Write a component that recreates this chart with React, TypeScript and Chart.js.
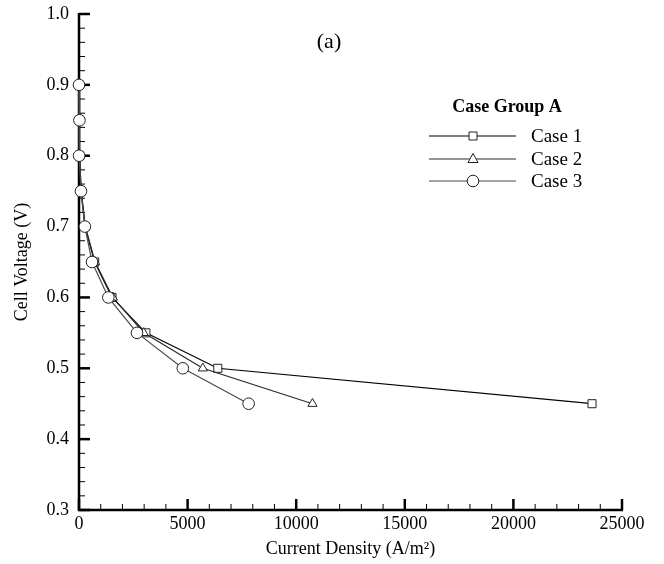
import React, { useEffect, useRef } from "react";
import { Chart, registerables } from "chart.js";

Chart.register(...registerables);

const voltages = [0.9, 0.85, 0.8, 0.75, 0.7, 0.65, 0.6, 0.55, 0.5, 0.45];
const case1Current = [5, 20, 30, 100, 280, 720, 1520, 3080, 6390, 23620];
const case2Current = [5, 20, 30, 100, 290, 740, 1560, 2980, 5700, 10750];
const case3Current = [0, 20, 5, 90, 270, 600, 1350, 2670, 4780, 7810];
const seriesNames = ["Case 1", "Case 2", "Case 3"];
const seriesColors = ["#000000", "#2a2a2a", "#4a4a4a"];
const seriesMarkers = ["rect", "triangle", "circle"];
const legendTitle = "Case Group A";
const panelLabel = "(a)";
const xTitle = "Current Density (A/m\u00B2)";
const yTitle = "Cell Voltage (V)";
const xMin = 0, xMax = 25000, xMajor = 5000, xMinor = 1000;
const yMin = 0.3, yMax = 1.0, yMajor = 0.1, yMinor = 0.02;

const FONT = "'Liberation Serif', 'Times New Roman', serif";

function drawMarker(ctx: CanvasRenderingContext2D, kind: string, x: number, y: number) {
  ctx.beginPath();
  if (kind === "rect") {
    ctx.rect(x - 4, y - 4, 8, 8);
  } else if (kind === "triangle") {
    ctx.moveTo(x, y - 5.5);
    ctx.lineTo(x + 5, y + 3.5);
    ctx.lineTo(x - 5, y + 3.5);
    ctx.closePath();
  } else {
    ctx.arc(x, y, 5.8, 0, Math.PI * 2);
  }
  ctx.fillStyle = "#fff";
  ctx.fill();
  ctx.stroke();
}

const axesPlugin = {
  id: "tecAxes",
  beforeDatasetsDraw(chart: any) {
    const { ctx, chartArea, scales } = chart;
    const { left, right, top, bottom } = chartArea;
    const x = scales.x, y = scales.y;
    ctx.save();
    ctx.strokeStyle = "#000";
    ctx.lineCap = "butt";
    const nx = Math.round((xMax - xMin) / xMinor);
    for (let i = 0; i <= nx; i++) {
      const v = xMin + i * xMinor;
      const px = x.getPixelForValue(v);
      const major = Math.round(v) % xMajor === 0;
      ctx.lineWidth = major ? 2.5 : 1;
      ctx.beginPath();
      ctx.moveTo(px, bottom);
      ctx.lineTo(px, bottom - (major ? 11 : 6));
      ctx.stroke();
    }
    const ny = Math.round((yMax - yMin) / yMinor);
    for (let i = 0; i <= ny; i++) {
      const v = yMin + i * yMinor;
      const py = y.getPixelForValue(v);
      const major = i % Math.round(yMajor / yMinor) === 0;
      ctx.lineWidth = major ? 2.5 : 1;
      ctx.beginPath();
      ctx.moveTo(left, py);
      ctx.lineTo(left + (major ? 11 : 6), py);
      ctx.stroke();
    }
    ctx.lineWidth = 2.5;
    ctx.beginPath();
    ctx.moveTo(left, top - 1);
    ctx.lineTo(left, bottom);
    ctx.lineTo(right + 1, bottom);
    ctx.stroke();
    ctx.restore();
  },
  afterDraw(chart: any) {
    const { ctx } = chart;
    ctx.save();
    ctx.fillStyle = "#000";
    ctx.textBaseline = "middle";
    ctx.textAlign = "center";
    ctx.font = `22px ${FONT}`;
    ctx.fillText(panelLabel, 329, 42);
    ctx.font = `bold 18px ${FONT}`;
    ctx.fillText(legendTitle, 507, 107);
    const rows = [136, 159, 181];
    for (let i = 0; i < seriesNames.length; i++) {
      const yy = rows[i];
      ctx.strokeStyle = seriesColors[i];
      ctx.lineWidth = 1.2;
      ctx.beginPath();
      ctx.moveTo(429, yy);
      ctx.lineTo(516, yy);
      ctx.stroke();
      ctx.strokeStyle = "#222";
      ctx.lineWidth = 1;
      drawMarker(ctx, seriesMarkers[i], 473, yy);
      ctx.fillStyle = "#000";
      ctx.textAlign = "left";
      ctx.font = `19px ${FONT}`;
      ctx.fillText(seriesNames[i], 531, yy + 1);
    }
    ctx.restore();
  },
};

export default function App() {
  const ref = useRef<HTMLCanvasElement | null>(null);
  useEffect(() => {
    if (!ref.current) return;
    const currents = [case1Current, case2Current, case3Current];
    const chart = new Chart(ref.current, {
      type: "line",
      data: {
        datasets: seriesNames.map((name, i) => ({
          label: name,
          data: voltages.map((v, k) => ({ x: currents[i][k], y: v })),
          borderColor: seriesColors[i],
          borderWidth: 1.2,
          pointStyle: seriesMarkers[i] as any,
          pointRadius: i === 0 ? 5.7 : i === 1 ? 5.3 : 5.8,
          pointBorderColor: "#222",
          pointBorderWidth: 1,
          pointBackgroundColor: "#fff",
          tension: 0,
          fill: false,
          clip: false as any,
          order: 3 - i,
        })),
      },
      options: {
        animation: false,
        responsive: false,
        layout: { padding: { top: 14, right: 42, left: 0, bottom: 0 } },
        plugins: { legend: { display: false }, tooltip: { enabled: false } },
        scales: {
          x: {
            type: "linear",
            min: xMin,
            max: xMax,
            grid: { display: false, drawTicks: false },
            border: { display: false },
            ticks: {
              stepSize: xMajor,
              padding: 3,
              color: "#000",
              font: { family: FONT, size: 18 },
              maxRotation: 0,
              callback: (v: any) => String(Math.round(Number(v))),
            },
            title: {
              display: true,
              text: xTitle,
              color: "#000",
              font: { family: FONT, size: 18 },
              padding: 4,
            },
            afterFit: (s: any) => {
              s.height = 54;
              s.paddingLeft = 0;
              s.paddingRight = 0;
            },
          },
          y: {
            type: "linear",
            min: yMin,
            max: yMax,
            grid: { display: false, drawTicks: false },
            border: { display: false },
            ticks: {
              stepSize: yMajor,
              padding: 10,
              color: "#000",
              font: { family: FONT, size: 18 },
              callback: (v: any) => Number(v).toFixed(1),
            },
            title: {
              display: true,
              text: yTitle,
              color: "#000",
              font: { family: FONT, size: 18 },
              padding: 11,
            },
            afterFit: (s: any) => {
              s.width = 79;
              s.paddingTop = 0;
              s.paddingBottom = 0;
            },
          },
        },
      },
      plugins: [axesPlugin],
    });
    return () => chart.destroy();
  }, []);
  return (
    <div style={{ position: "fixed", left: 0, top: 0, width: 664, height: 564, background: "#fff" }}>
      <canvas ref={ref} width={664} height={564} style={{ display: "block" }} />
    </div>
  );
}
